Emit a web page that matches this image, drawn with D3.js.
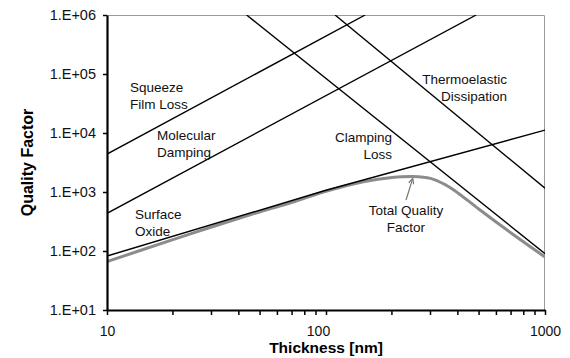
<!DOCTYPE html>
<html>
<head>
<meta charset="utf-8">
<script src="https://cdn.jsdelivr.net/npm/d3@7"></script>
<style>
  body { margin: 0; background: #fff; }
  svg { font-family: "Liberation Sans", Arial, sans-serif; }
</style>
</head>
<body>
<div id="chart"></div>
<script>
// values (thickness in nm, quality factor)
const xMajorTicks = [10, 100, 1000];
const xMinorTicks = [20, 30, 40, 50, 60, 70, 80, 90, 200, 300, 400, 500, 600, 700, 800, 900];
const yTicks = [1e1, 1e2, 1e3, 1e4, 1e5, 1e6];

const squeezeFilm = [[10, 4400], [151, 1e6]];
const molecularDamping = [[10, 436], [485, 1e6]];
const surfaceOxide = [[10, 82], [100, 1070], [1000, 11200]];
const clampingLoss = [[43.4, 1e6], [1000, 90]];
const thermoelastic = [[110, 1e6], [1000, 1160]];
const totalQuality = [[10, 66], [20, 156], [30, 255], [50, 462], [70, 668], [100, 1030],
                      [150, 1510], [200, 1760], [250, 1830], [300, 1700], [350, 1330],
                      [400, 965], [500, 510], [700, 202], [1000, 79]];

const lineSeries = [squeezeFilm, molecularDamping, surfaceOxide, clampingLoss, thermoelastic];

const margin = {top: 15, right: 25, bottom: 48, left: 107};
const width = 570 - margin.left - margin.right;
const height = 358 - margin.top - margin.bottom;

const svg = d3.select("#chart")
    .append("svg")
    .attr("width", width + margin.left + margin.right)
    .attr("height", height + margin.top + margin.bottom)
  .append("g")
    .attr("transform", `translate(${margin.left},${margin.top})`);

const x = d3.scaleLog().domain([10, 1000]).range([0, width]);
const y = d3.scaleLog().domain([1e1, 1e6]).range([height, 0]);

svg.append("clipPath").attr("id", "plot-clip")
  .append("rect").attr("width", width).attr("height", height);

// light frame on top and right
svg.append("path")
    .attr("d", `M0,0.5H${width - 0.5}V${height}`)
    .attr("fill", "none")
    .attr("stroke", "#9a9a9a")
    .attr("stroke-width", 1);

const plot = svg.append("g").attr("clip-path", "url(#plot-clip)");

plot.append("path")
    .datum(totalQuality)
    .attr("d", d3.line().x(d => x(d[0])).y(d => y(d[1])).curve(d3.curveCatmullRom.alpha(0.5)))
    .attr("fill", "none")
    .attr("stroke", "#8c8c8c")
    .attr("stroke-width", 3);

plot.selectAll(".mech")
    .data(lineSeries)
    .enter()
    .append("path")
    .attr("class", "mech")
    .attr("d", d3.line().x(d => x(d[0])).y(d => y(d[1])))
    .attr("fill", "none")
    .attr("stroke", "#000")
    .attr("stroke-width", 1.4);

// axes
const yAxis = svg.append("g")
    .call(d3.axisLeft(y).tickValues(yTicks).tickSize(4).tickSizeOuter(0).tickPadding(7)
      .tickFormat(d => "1.E+" + String(Math.round(Math.log10(d))).padStart(2, "0")));

const xAxis = svg.append("g")
    .attr("transform", `translate(0,${height})`)
    .call(d3.axisBottom(x).tickValues(xMajorTicks).tickSize(5).tickSizeOuter(0).tickPadding(11)
      .tickFormat(d3.format("d")));

xAxis.selectAll(".minor")
    .data(xMinorTicks)
    .enter()
    .append("line")
    .attr("class", "minor")
    .attr("x1", d => x(d)).attr("x2", d => x(d))
    .attr("y1", 0).attr("y2", 5)
    .attr("stroke", "#000")
    .attr("stroke-width", 1.5);

[xAxis, yAxis].forEach(g => {
  g.select(".domain").attr("stroke-width", 2.2);
  g.selectAll(".tick line").attr("stroke-width", 1.5);
  g.selectAll("text").attr("font-size", 14.5).attr("fill", "#111")
    .attr("font-family", "'Liberation Sans', Arial, sans-serif");
});
xAxis.selectAll(".tick text").attr("font-size", 14).attr("dx", d => d === 100 ? -8 : 0);

svg.append("text")
    .attr("x", x(100))
    .attr("y", height + 43)
    .attr("text-anchor", "middle")
    .attr("font-weight", "bold")
    .attr("font-size", 15.5)
    .text("Thickness [nm]");

svg.append("text")
    .attr("transform", `translate(${-74},${height / 2}) rotate(-90)`)
    .attr("text-anchor", "middle")
    .attr("font-weight", "bold")
    .attr("font-size", 16)
    .text("Quality Factor");

// curve labels (pixel positions in the svg frame)
const labels = [
  {lines: ["Squeeze", "Film Loss"], x: 130, y: 92, anchor: "start"},
  {lines: ["Molecular", "Damping"], x: 157, y: 140, anchor: "start"},
  {lines: ["Surface", "Oxide"], x: 135, y: 218.5, anchor: "start"},
  {lines: ["Clamping", "Loss"], x: 392, y: 141.5, anchor: "end"},
  {lines: ["Thermoelastic", "Dissipation"], x: 507, y: 84, anchor: "end"},
  {lines: ["Total Quality", "Factor"], x: 406, y: 214.5, anchor: "middle"}
];

const root = d3.select("#chart svg");
labels.forEach(l => {
  const t = root.append("text")
      .attr("text-anchor", l.anchor)
      .attr("font-size", 13.5)
      .attr("fill", "#111");
  l.lines.forEach((s, i) => {
    t.append("tspan").attr("x", l.x).attr("y", l.y + i * 17).text(s);
  });
});

// arrow to the peak of the total curve
const arrowFrom = [232, 731];
const arrowTo = [249, 1706];
const ax0 = x(arrowFrom[0]), ay0 = y(arrowFrom[1]);
const ax1 = x(arrowTo[0]), ay1 = y(arrowTo[1]);
const ang = Math.atan2(ay1 - ay0, ax1 - ax0);
svg.append("line")
    .attr("x1", ax0).attr("y1", ay0).attr("x2", ax1).attr("y2", ay1)
    .attr("stroke", "#777").attr("stroke-width", 1.2);
svg.append("path")
    .attr("d", [ang + 2.7, ang - 2.7].map(a =>
      `M${ax1},${ay1}L${ax1 + 6 * Math.cos(a)},${ay1 + 6 * Math.sin(a)}`).join(""))
    .attr("stroke", "#777").attr("stroke-width", 1.2).attr("fill", "none");
</script>
</body>
</html>
